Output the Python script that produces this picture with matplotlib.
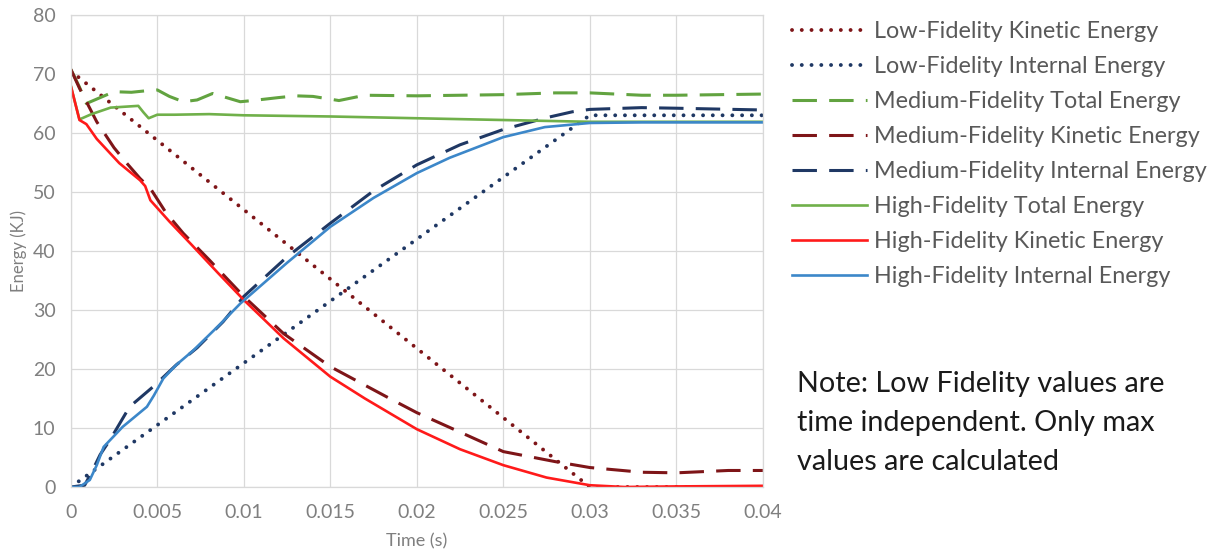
import matplotlib
matplotlib.use("Agg")
import matplotlib.pyplot as plt

# ---------------- data ----------------
t_low = [0.0, 0.03, 0.04]
low_kinetic = [70.5, 0.0, 0.0]
low_internal = [0.0, 63.0, 63.0]

t_med_total = [0, 0.0005, 0.0009, 0.0013, 0.0017, 0.0025, 0.0035, 0.0045, 0.005, 0.0057,
               0.0065, 0.0073, 0.0082, 0.009, 0.0098, 0.0105, 0.012, 0.013, 0.014, 0.0155,
               0.017, 0.02, 0.025, 0.028, 0.03, 0.033, 0.035, 0.04]
med_total = [70.8, 67.8, 65.0, 65.5, 66.0, 67.0, 66.9, 67.2, 67.3, 66.2,
             65.3, 65.6, 66.7, 66.0, 65.3, 65.5, 66.0, 66.3, 66.2, 65.5,
             66.4, 66.3, 66.5, 66.8, 66.8, 66.4, 66.4, 66.6]

t_med_kinetic = [0, 0.0005, 0.0015, 0.0025, 0.0032, 0.004, 0.0046, 0.0055, 0.0065, 0.008,
                 0.01, 0.0123, 0.015, 0.0185, 0.02, 0.025, 0.028, 0.03, 0.033, 0.035, 0.038, 0.04]
med_kinetic = [70.8, 67.6, 61.9, 57.5, 55.0, 52.3, 50.6, 46.5, 43.0, 38.5,
               32.3, 26.0, 20.4, 14.9, 12.6, 6.0, 4.3, 3.3, 2.5, 2.4, 2.8, 2.8]

t_med_internal = [0, 0.0008, 0.0012, 0.0017, 0.00227, 0.0034, 0.0048, 0.0061, 0.0073, 0.0088,
                  0.01, 0.0125, 0.015, 0.0175, 0.02, 0.0225, 0.025, 0.0275, 0.029, 0.03,
                  0.033, 0.035, 0.04]
med_internal = [0, 0.3, 2.5, 5.5, 8.0, 13.6, 17.1, 20.7, 23.6, 28.0,
                32.3, 39.0, 44.7, 50.2, 54.6, 58.0, 60.6, 62.6, 63.6, 64.0,
                64.3, 64.2, 63.9]

t_high_total = [0, 0.0005, 0.0012, 0.0023, 0.0039, 0.0042, 0.0045, 0.005, 0.006, 0.008,
                0.01, 0.015, 0.02, 0.025, 0.03, 0.04]
high_total = [68.0, 62.3, 63.2, 64.3, 64.6, 63.5, 62.5, 63.1, 63.1, 63.2,
              63.0, 62.8, 62.5, 62.2, 61.9, 61.9]

t_high_kinetic = [0, 0.0005, 0.0009, 0.0015, 0.0028, 0.004, 0.0043, 0.0046, 0.0057, 0.007,
                  0.0085, 0.01, 0.0123, 0.015, 0.017, 0.02, 0.0225, 0.025, 0.0275, 0.03,
                  0.032, 0.035, 0.04]
high_kinetic = [68.0, 62.2, 61.5, 59.0, 54.9, 52.0, 51.0, 48.6, 45.0, 41.0,
                36.3, 31.7, 25.2, 18.7, 15.0, 9.8, 6.4, 3.7, 1.6, 0.3,
                0.0, 0.1, 0.2]

t_high_internal = [0, 0.0005, 0.0011, 0.0015, 0.0019, 0.003, 0.0044, 0.0048, 0.00535, 0.0061,
                   0.0071, 0.0086, 0.0098, 0.0125, 0.015, 0.0175, 0.02, 0.0219, 0.025, 0.0274,
                   0.03, 0.033, 0.04]
high_internal = [0, 0, 1.2, 3.7, 6.8, 10.2, 13.6, 15.5, 18.4, 20.7,
                 23.2, 27.5, 31.1, 38.0, 44.1, 49.0, 53.2, 55.8, 59.3, 61.0,
                 61.7, 61.8, 61.8]

x_ticks = [0, 0.005, 0.01, 0.015, 0.02, 0.025, 0.03, 0.035, 0.04]
x_tick_labels = ["0", "0.005", "0.01", "0.015", "0.02", "0.025", "0.03", "0.035", "0.04"]
y_ticks = [0, 10, 20, 30, 40, 50, 60, 70, 80]

labels = ["Low-Fidelity Kinetic Energy", "Low-Fidelity Internal Energy",
          "Medium-Fidelity Total Energy", "Medium-Fidelity Kinetic Energy",
          "Medium-Fidelity Internal Energy", "High-Fidelity Total Energy",
          "High-Fidelity Kinetic Energy", "High-Fidelity Internal Energy"]

note = "Note: Low Fidelity values are\ntime independent. Only max\nvalues are calculated"

# ---------------- style ----------------
plt.rcParams["font.family"] = ["Lato", "DejaVu Sans"]

C_DRED = "#7E1518"
C_NAVY = "#1F3864"
C_GREEN_D = "#62A340"
C_GREEN = "#70B04A"
C_RED = "#FF1A1A"
C_BLUE = "#3C87C9"
GRID = "#D9D9D9"

fig = plt.figure(figsize=(12.23, 5.54), dpi=100)
ax = fig.add_axes([70.8 / 1223, 1 - 487 / 554, (762.8 - 70.8) / 1223, (487 - 15) / 554])

dot = dict(linestyle=(0, (0.01, 2.5)), dash_capstyle="round", linewidth=2.8)
dash = dict(linestyle=(0, (8, 4)), linewidth=2.2, dash_capstyle="butt")
solid = dict(linestyle="-", linewidth=1.9)

ax.plot(t_low, low_kinetic, color=C_DRED, label=labels[0], **dot)
ax.plot(t_low, low_internal, color=C_NAVY, label=labels[1], **dot)
ax.plot(t_med_total, med_total, color=C_GREEN_D, label=labels[2], **dash)
ax.plot(t_med_kinetic, med_kinetic, color=C_DRED, label=labels[3], **dash)
ax.plot(t_med_internal, med_internal, color=C_NAVY, label=labels[4], **dash)
ax.plot(t_high_total, high_total, color=C_GREEN, label=labels[5], **solid)
ax.plot(t_high_kinetic, high_kinetic, color=C_RED, label=labels[6], **solid)
ax.plot(t_high_internal, high_internal, color=C_BLUE, label=labels[7], **solid)

ax.set_xlim(0, 0.04)
ax.set_ylim(0, 80)
ax.set_xticks(x_ticks)
ax.set_xticklabels(x_tick_labels)
ax.set_yticks(y_ticks)
ax.grid(True, color=GRID, linewidth=0.9)
ax.set_axisbelow(True)
for s in ax.spines.values():
    s.set_color(GRID)
    s.set_linewidth(0.9)
ax.tick_params(length=0, labelsize=14, labelcolor="#7F7F7F")
ax.tick_params(axis="x", pad=12)
ax.tick_params(axis="y", pad=11)
ax.set_xlabel("Time (s)", fontsize=13, color="#7F7F7F", labelpad=9)
ax.set_ylabel("Energy (KJ)", fontsize=12, color="#7F7F7F", labelpad=4)

handles, labs = ax.get_legend_handles_labels()
leg = fig.legend(handles, labs, loc="upper left", bbox_to_anchor=(792 / 1223, 1 - 21 / 554),
                 frameon=False, fontsize=16.8, handlelength=3.2, handletextpad=0.3,
                 labelspacing=0.60, borderaxespad=0, borderpad=0)
for txt in leg.get_texts():
    txt.set_color("#595959")

fig.text(797 / 1223, 1 - 371 / 554, note, fontsize=20.7, color="#1A1A1A",
         va="top", ha="left", linespacing=1.62)

fig.savefig("out.png", dpi=100, facecolor="white")
